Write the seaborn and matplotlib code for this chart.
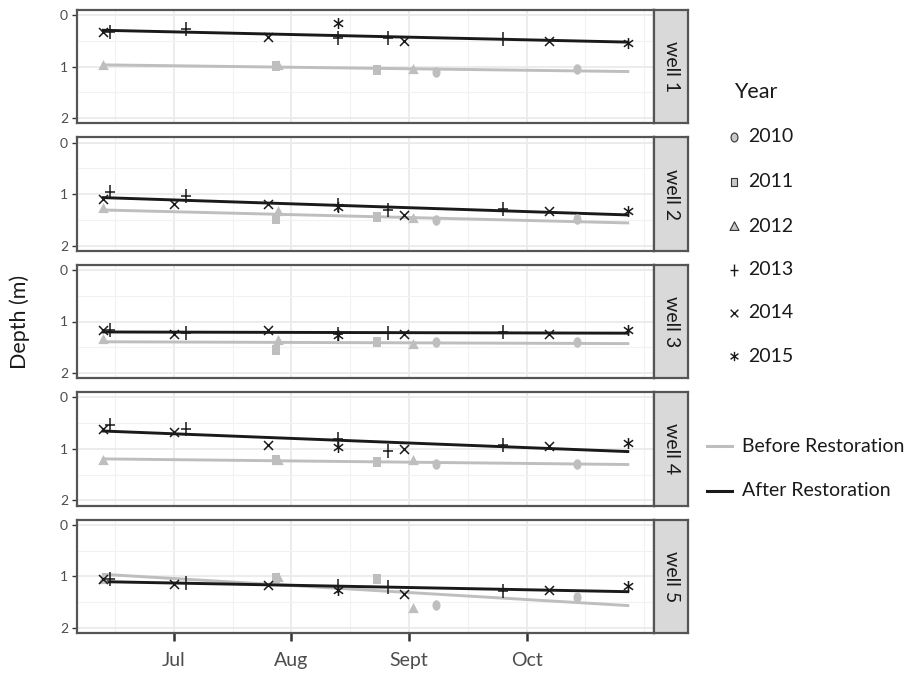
import numpy as np
import pandas as pd
import matplotlib.pyplot as plt
import seaborn as sns
from matplotlib.path import Path
from matplotlib.lines import Line2D

# field visits: year and date as decimal month (7 = 1 July)
visit_year = [2010, 2010, 2011, 2011, 2012, 2012, 2012,
              2013, 2013, 2013, 2013, 2013,
              2014, 2014, 2014, 2014, 2014,
              2015, 2015]
visit_month = [9.23, 10.43, 7.87, 8.73, 6.40, 7.89, 9.03,
               6.46, 7.10, 8.40, 8.82, 9.80,
               6.40, 7.00, 7.80, 8.96, 10.19,
               8.40, 10.86]

# water table depth (m) at each visit
well_1 = [1.10, 1.04, 0.98, 1.07, 0.97, 0.97, 1.05,
          0.32, 0.27, 0.45, 0.44, 0.46,
          0.335, np.nan, 0.43, 0.50, 0.50,
          0.16, 0.535]
well_2 = [1.50, 1.49, 1.49, 1.44, 1.27, 1.33, 1.47,
          0.95, 1.04, 1.22, 1.31, 1.28,
          1.09, 1.19, 1.19, 1.40, 1.33,
          1.25, 1.33]
well_3 = [1.40, 1.39, 1.56, 1.40, 1.33, 1.35, 1.44,
          1.16, 1.23, 1.25, 1.23, 1.21,
          1.16, 1.24, 1.16, 1.25, 1.24,
          1.27, 1.16]
well_4 = [1.30, 1.30, 1.22, 1.25, 1.21, 1.22, 1.22,
          0.53, 0.61, 0.80, 1.05, 0.92,
          0.61, 0.68, 0.93, 1.01, 0.94,
          0.97, 0.88]
well_5 = [1.55, 1.40, 1.04, 1.06, 1.06, 1.02, 1.61,
          1.06, 1.13, 1.18, 1.21, 1.28,
          1.06, 1.14, 1.16, 1.34, 1.26,
          1.26, 1.19]

well_names = ['well 1', 'well 2', 'well 3', 'well 4', 'well 5']
years = [2010, 2011, 2012, 2013, 2014, 2015]
month_ticks = [7, 8, 9, 10]
month_labels = ['Jul', 'Aug', 'Sept', 'Oct']

GREY = '#BEBEBE'
BLACK = '#1A1A1A'

frames = []
for name, depth in zip(well_names, [well_1, well_2, well_3, well_4, well_5]):
    frames.append(pd.DataFrame({'well': name, 'year': visit_year,
                                'month': visit_month, 'depth': depth}))
df = pd.concat(frames).dropna()
df['period'] = np.where(df['year'] <= 2012, 'Before Restoration', 'After Restoration')


# marker shapes (slightly tall, like the original)
def seg_path(segs):
    verts, codes = [], []
    for a, b in segs:
        verts += [a, b]
        codes += [Path.MOVETO, Path.LINETO]
    return Path(verts, codes)


t = np.linspace(0, 2 * np.pi, 41)
circle = Path(np.column_stack([0.5 / 1.3 * np.cos(t), 0.5 * np.sin(t)]), closed=True)
square = Path([(-0.38, -0.5), (0.38, -0.5), (0.38, 0.5), (-0.38, 0.5), (-0.38, -0.5)], closed=True)
triangle = Path([(-0.48, -0.42), (0.48, -0.42), (0, 0.5), (-0.48, -0.42)], closed=True)
plus = seg_path([((0, -0.5), (0, 0.5)), ((-0.33, 0), (0.33, 0))])
cross = seg_path([((-0.5, -0.5), (0.5, 0.5)), ((-0.5, 0.5), (0.5, -0.5))])
star = seg_path([((0, -0.5), (0, 0.5)), ((-0.42, -0.3), (0.42, 0.3)), ((-0.42, 0.3), (0.42, -0.3))])

marker_paths = {2010: circle, 2011: square, 2012: triangle, 2013: plus, 2014: cross, 2015: star}
marker_px = {2010: 10.5, 2011: 10, 2012: 11, 2013: 14, 2014: 9, 2015: 11}

plt.rcParams['font.family'] = ['Lato', 'DejaVu Sans']

W, H = 911, 677
fig = plt.figure(figsize=(W / 100, H / 100), dpi=100)
px_left, px_right = 77, 654
top0, panel_h, gap = 10, 113.4, 14.0

x_min, x_max = df['month'].min(), df['month'].max()
pad = 0.05 * (x_max - x_min)

for i, name in enumerate(well_names):
    top = top0 + i * (panel_h + gap)
    ax = fig.add_axes([px_left / W, 1 - (top + panel_h) / H,
                       (px_right - px_left) / W, panel_h / H])
    sub = df[df['well'] == name]

    # fitted trend lines span the full data range
    ax.set_xlim(x_min, x_max)
    for period, color in [('Before Restoration', GREY), ('After Restoration', BLACK)]:
        sns.regplot(data=sub[sub['period'] == period], x='month', y='depth',
                    scatter=False, ci=None, truncate=False, color=color,
                    line_kws={'lw': 2.1}, ax=ax)

    for yr in years:
        pts = sub[sub['year'] == yr]
        col = GREY if yr <= 2012 else BLACK
        sns.scatterplot(data=pts, x='month', y='depth', marker=marker_paths[yr],
                        s=(marker_px[yr] * 0.72) ** 2, color=col, edgecolor=col,
                        linewidth=0 if yr <= 2012 else 1.1, zorder=3, ax=ax)

    ax.set_xlim(x_min - pad, x_max + pad)
    ax.set_ylim(2.1, -0.1)
    ax.set_yticks([0, 1, 2])
    ax.set_yticks([0.5, 1.5], minor=True)
    ax.set_xticks(month_ticks)
    ax.set_xticks([6.5, 7.5, 8.5, 9.5, 10.5, 11], minor=True)
    ax.set_facecolor('white')
    ax.grid(which='major', color='#EBEBEB', lw=1.3)
    ax.grid(which='minor', color='#F2F2F2', lw=0.8)
    ax.set_axisbelow(True)
    ax.tick_params(which='minor', length=0)
    ax.tick_params(axis='y', length=3.5, width=1, color='#333333',
                   labelsize=10, labelcolor='#4D4D4D', pad=3)
    if i == len(well_names) - 1:
        ax.set_xticklabels(month_labels)
        ax.tick_params(axis='x', length=6, width=1.8, color='#333333',
                       labelsize=14, labelcolor='#4D4D4D', pad=8)
    else:
        ax.tick_params(axis='x', length=0, labelbottom=False)
    ax.set_xlabel('')
    ax.set_ylabel('')
    for sp in ax.spines.values():
        sp.set_color('#555555')
        sp.set_linewidth(1.6)

    # facet strip
    sax = fig.add_axes([px_right / W, 1 - (top + panel_h) / H, 34 / W, panel_h / H])
    sax.set_facecolor('#D9D9D9')
    sax.set_xticks([])
    sax.set_yticks([])
    for sp in sax.spines.values():
        sp.set_color('#555555')
        sp.set_linewidth(1.6)
    sax.text(0.5, 0.5, name, rotation=270, ha='center', va='center',
             fontsize=14, color='#1A1A1A', transform=sax.transAxes)

fig.text(20 / W, 1 - 321.5 / H, 'Depth (m)', rotation=90, ha='center', va='center',
         fontsize=15.5, color='#1A1A1A')

# legend: years
fig.text(734 / W, 1 - 92 / H, 'Year', ha='left', va='center', fontsize=15.5, color='#1A1A1A')
for yr, y in zip(years, [137, 182, 226, 270, 313, 356]):
    if yr <= 2012:
        kw = dict(mfc='#C8C8C8', mec='#333333', mew=0.8)
    else:
        kw = dict(mfc=BLACK, mec=BLACK, mew=1.0)
    fig.add_artist(Line2D([734 / W], [1 - y / H], transform=fig.transFigure,
                          marker=marker_paths[yr], markersize=marker_px[yr] * 0.72 * 0.85,
                          ls='none', **kw))
    fig.text(748 / W, 1 - y / H, str(yr), ha='left', va='center', fontsize=14, color='#1A1A1A')

# legend: periods
for label, color, y in [('Before Restoration', GREY, 446), ('After Restoration', BLACK, 491)]:
    fig.add_artist(Line2D([707 / W, 732 / W], [1 - y / H, 1 - y / H],
                          transform=fig.transFigure, color=color, lw=2.2))
    fig.text(742 / W, 1 - y / H, label, ha='left', va='center', fontsize=14, color='#1A1A1A')

fig.savefig('out.png', dpi=100)
